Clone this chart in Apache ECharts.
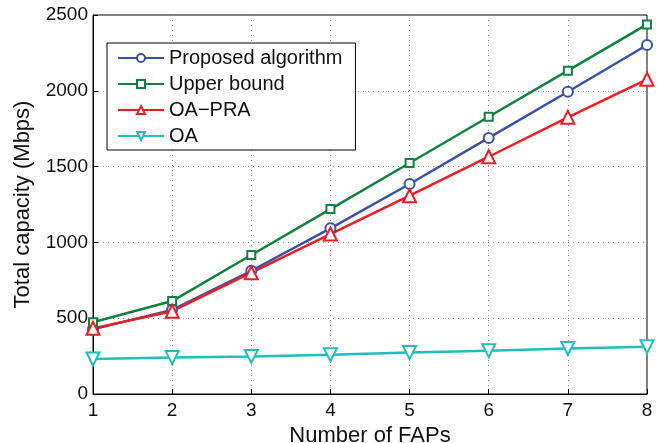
<!DOCTYPE html>
<html>
<head>
<meta charset="utf-8">
<script src="https://cdn.jsdelivr.net/npm/echarts@6/dist/echarts.min.js"></script>
<style>
  html, body { margin: 0; padding: 0; background: #fff; }
  #chart { width: 662px; height: 443px; }
</style>
</head>
<body>
<div id="chart"></div>
<script>
// number of FAPs
const faps = [1, 2, 3, 4, 5, 6, 7, 8]
// total capacity (Mbps)
const proposed = [427, 555, 813, 1093, 1385, 1689, 1994, 2302]
const upperBound = [473, 613, 917, 1220, 1524, 1829, 2133, 2438]
const oaPra = [433, 546, 800, 1055, 1308, 1565, 1825, 2076]
const oa = [231, 240, 248, 259, 273, 286, 300, 312]

const seriesNames = ['Proposed algorithm', 'Upper bound', 'OA\u2212PRA', 'OA']

const pairs = arr => faps.map((x, i) => [x, arr[i]])

const chart = echarts.init(document.getElementById('chart'), null, { renderer: 'canvas' })

const fontFamily = 'Liberation Sans, Arial, Helvetica, sans-serif'

const mkSeries = (name, data, color, symbol, size, rotate) => ({
  name: name,
  type: 'line',
  data: pairs(data),
  symbol: symbol,
  symbolSize: size,
  symbolRotate: rotate || 0,
  showAllSymbol: true,
  lineStyle: { color: color, width: 2.5 },
  itemStyle: { color: color, borderColor: color, borderWidth: 2.2 },
  emphasis: { disabled: true },
  z: 3
})

chart.setOption({
  animation: false,
  backgroundColor: '#fff',
  grid: {
    left: 93,
    right: 15,
    top: 15,
    bottom: 49,
    outerBoundsMode: 'none',
    containLabel: false,
    show: true,
    borderColor: '#000',
    borderWidth: 1,
    backgroundColor: 'transparent'
  },
  legend: {
    orient: 'vertical',
    left: 107,
    top: 43,
    data: seriesNames,
    backgroundColor: '#fff',
    borderColor: '#000',
    borderWidth: 1,
    borderRadius: 0,
    padding: [5, 13, 4, 10],
    itemWidth: 46,
    itemHeight: 10,
    itemGap: 6,
    itemStyle: { borderWidth: 2 },
    textStyle: { fontSize: 20, lineHeight: 20, color: '#111', fontFamily: fontFamily },
    selectedMode: false
  },
  xAxis: {
    type: 'value',
    min: 1,
    max: 8,
    interval: 1,
    name: 'Number of FAPs',
    nameLocation: 'middle',
    nameGap: 22,
    nameTextStyle: { fontSize: 22, color: '#111', fontFamily: fontFamily },
    axisLine: { lineStyle: { color: '#000', width: 1 } },
    axisTick: { inside: true, length: 5, lineStyle: { color: '#000' } },
    axisLabel: { fontSize: 19, color: '#111', margin: 7, fontFamily: fontFamily },
    splitLine: { show: true, lineStyle: { color: '#888', type: [1, 4], width: 1 } }
  },
  yAxis: {
    type: 'value',
    min: 0,
    max: 2500,
    interval: 500,
    name: 'Total capacity (Mbps)',
    nameLocation: 'middle',
    nameGap: 59,
    nameTextStyle: { fontSize: 22, color: '#111', fontFamily: fontFamily },
    axisLine: { show: true, lineStyle: { color: '#000', width: 1 } },
    axisTick: { show: true, inside: true, length: 5, lineStyle: { color: '#000' } },
    axisLabel: { fontSize: 19, color: '#111', margin: 5, fontFamily: fontFamily, formatter: v => String(v) },
    splitLine: { show: true, lineStyle: { color: '#888', type: [1, 4], width: 1 } }
  },
  series: [
    mkSeries(seriesNames[0], proposed, '#3a52a3', 'emptyCircle', 10),
    mkSeries(seriesNames[1], upperBound, '#12803e', 'emptyRect', 8),
    mkSeries(seriesNames[2], oaPra, '#ee1d25', 'emptyTriangle', 13),
    mkSeries(seriesNames[3], oa, '#20bdbd', 'emptyTriangle', 13, 180)
  ]
})
</script>
</body>
</html>
